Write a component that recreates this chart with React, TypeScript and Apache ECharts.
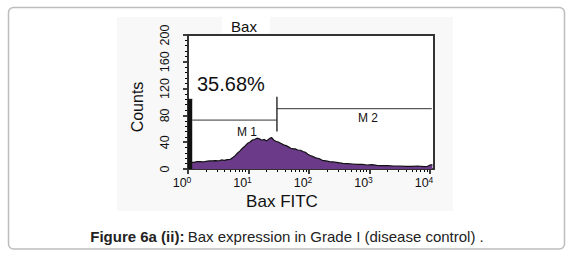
import React, { useEffect, useRef } from "react";
import * as echarts from "echarts";

// Histogram (x = log10 of Bax FITC intensity, y = counts)
const logX = [0.06, 0.1, 0.15, 0.2, 0.25, 0.3, 0.35, 0.4, 0.45, 0.5, 0.55, 0.6, 0.65, 0.7, 0.74, 0.78, 0.82, 0.86, 0.9, 0.94, 0.98, 1.02, 1.06, 1.1, 1.14, 1.18, 1.22, 1.26, 1.3, 1.34, 1.38, 1.42, 1.46, 1.5, 1.54, 1.58, 1.62, 1.66, 1.7, 1.74, 1.78, 1.82, 1.86, 1.9, 1.94, 1.98, 2.02, 2.06, 2.1, 2.14, 2.18, 2.22, 2.28, 2.34, 2.4, 2.48, 2.56, 2.64, 2.72, 2.8, 2.88, 2.96, 3.04, 3.12, 3.2, 3.3, 3.4, 3.5, 3.6, 3.7, 3.8, 3.9, 3.96, 4.0, 4.04];
const counts = [10, 10, 11, 11, 10.5, 11.5, 12, 12, 12.5, 12, 13.5, 13, 14, 14.5, 17, 20, 24, 27, 31, 34, 38, 40, 43, 44, 46, 45, 43, 44, 42, 45, 47, 43, 41, 40, 38, 36, 35, 33, 31, 30, 30, 28, 28, 26, 25, 22, 20, 19, 17, 16, 15, 13, 12, 11, 10.5, 9.5, 8.5, 8, 7.5, 7, 7, 6, 6.5, 5.5, 5, 5, 4.5, 4.5, 4, 4, 4.5, 3.5, 4, 6, 6.5];
// First channel pile-up at the axis
const firstBinX = [0, 0.07];
const firstBinCount = [104, 104];

// Markers
const m1 = { from: 0.07, to: 1.47, y: 73, tickLow: 56, tickHigh: 108 };
const m2 = { from: 1.47, to: 4.03, y: 90 };

const xMajor = [0, 1, 2, 3, 4];
const yTicks = [0, 40, 80, 120, 160, 200];
const xMax = 4.066;

const minorX: number[] = [];
for (const d of [0, 1, 2, 3, 4]) {
  for (let k = 2; k <= 9; k++) {
    const v = d + Math.log10(k);
    if (v <= xMax) minorX.push(v);
  }
}

export default function App() {
  const ref = useRef<HTMLDivElement>(null);
  useEffect(() => {
    if (!ref.current) return;
    const chart = echarts.init(ref.current, null, { renderer: "svg" });
    const font = "'Liberation Sans', Arial, sans-serif";
    chart.setOption({
      animation: false,
      backgroundColor: "#ffffff",
      grid: {
        left: 188,
        top: 35,
        width: 246,
        height: 134,
        show: true,
        backgroundColor: "#ffffff",
        borderColor: "#333",
        borderWidth: 2,
        z: 1,
      },
      xAxis: [
        {
          type: "value",
          min: 0,
          max: xMax,
          interval: 1,
          splitLine: { show: false },
          axisLine: { show: true, onZero: false, lineStyle: { color: "#000", width: 2 } },
          axisTick: { show: true, length: 5, inside: false, lineStyle: { color: "#000", width: 1.5 }, customValues: xMajor },
          axisLabel: {
            customValues: xMajor,
            margin: 6,
            padding: [0, 12, 0, 0],
            formatter: (v: number) => `{b|10}{s|${Math.round(v)}}`,
            rich: {
              b: { fontSize: 12.5, fontFamily: font, color: "#111" },
              s: { fontSize: 8.5, fontFamily: font, color: "#111", verticalAlign: "top", padding: [0, 0, 7, 0] },
            },
          },
        },
        {
          type: "value",
          min: 0,
          max: xMax,
          position: "bottom",
          splitLine: { show: false },
          axisLine: { show: false },
          axisTick: { show: true, length: 3, lineStyle: { color: "#000", width: 1 }, customValues: minorX },
          axisLabel: { show: false },
        },
      ],
      yAxis: {
        type: "value",
        min: 0,
        max: 200,
        interval: 40,
        splitLine: { show: false },
        axisLine: { show: true, lineStyle: { color: "#000", width: 2 } },
        axisTick: { show: true, length: 5, lineStyle: { color: "#000", width: 1.5 } },
        minorTick: { show: true, splitNumber: 5, length: 3, lineStyle: { color: "#000", width: 1 } },
        axisLabel: { rotate: 90, margin: 17, fontSize: 12.5, fontFamily: font, color: "#111" },
      },
      series: [
        {
          type: "line",
          data: logX.map((x, i) => [x, counts[i]]),
          symbol: "none",
          lineStyle: { color: "#111", width: 1.2 },
          areaStyle: { color: "#6b3b8a", opacity: 1 },
          z: 3,
        },
        {
          type: "line",
          data: firstBinX.map((x, i) => [x, firstBinCount[i]]),
          symbol: "none",
          lineStyle: { color: "#111", width: 1 },
          areaStyle: { color: "#111", opacity: 1 },
          z: 4,
        },
        {
          type: "line",
          data: [[m1.from, m1.y], [m1.to, m1.y]],
          symbol: "none",
          lineStyle: { color: "#333", width: 1 },
          z: 5,
        },
        {
          type: "line",
          data: [[m1.to, m1.tickLow], [m1.to, m1.tickHigh]],
          symbol: "none",
          lineStyle: { color: "#333", width: 1.5 },
          z: 5,
        },
        {
          type: "line",
          data: [[m2.from, m2.y], [m2.to, m2.y]],
          symbol: "none",
          lineStyle: { color: "#333", width: 1 },
          z: 5,
        },
      ],
      graphic: [
        {
          type: "rect",
          z: -10,
          shape: { x: 117, y: 17, width: 336, height: 194 },
          style: { fill: "#f8f8f8" },
          silent: true,
        },
        {
          type: "rect",
          shape: { x: 8.5, y: 7.5, width: 556, height: 241.5, r: 5 },
          style: { fill: "none", stroke: "#bdbdbd", lineWidth: 1.5 },
          silent: true,
        },
        {
          type: "rect",
          z: 100,
          shape: { x: 222, y: 17, width: 48, height: 16 },
          style: { fill: "#ffffff" },
        },
        {
          type: "text",
          z: 101,
          x: 244,
          y: 26,
          style: { text: "Bax", fontSize: 15, fontFamily: font, fill: "#111", align: "center", verticalAlign: "middle" },
        },
        {
          type: "text",
          z: 101,
          x: 197,
          y: 84,
          style: { text: "35.68%", fontSize: 20, fontFamily: font, fill: "#111", align: "left", verticalAlign: "middle" },
        },
        {
          type: "text",
          z: 101,
          x: 247,
          y: 132,
          style: { text: "M 1", fontSize: 12, fontFamily: font, fill: "#111", align: "center", verticalAlign: "middle" },
        },
        {
          type: "text",
          z: 101,
          x: 368,
          y: 118,
          style: { text: "M 2", fontSize: 12, fontFamily: font, fill: "#111", align: "center", verticalAlign: "middle" },
        },
        {
          type: "text",
          z: 101,
          x: 282,
          y: 201,
          style: { text: "Bax FITC", fontSize: 17, fontFamily: font, fill: "#111", align: "center", verticalAlign: "middle" },
        },
        {
          type: "text",
          z: 101,
          x: 137,
          y: 107,
          rotation: Math.PI / 2,
          style: { text: "Counts", fontSize: 16, fontFamily: font, fill: "#111", align: "center", verticalAlign: "middle" },
        },
        {
          type: "text",
          z: 101,
          x: 287,
          y: 236,
          style: {
            text: "{b|Figure 6a (ii):} {n|Bax expression in Grade I (disease control) .}",
            align: "center",
            verticalAlign: "middle",
            rich: {
              b: { fontSize: 15, fontWeight: "bold", fontFamily: font, fill: "#222" },
              n: { fontSize: 15, fontFamily: font, fill: "#222" },
            },
          },
        },
      ],
    });
    return () => chart.dispose();
  }, []);
  return <div ref={ref} style={{ position: "fixed", left: 0, top: 0, width: 575, height: 257 }} />;
}
